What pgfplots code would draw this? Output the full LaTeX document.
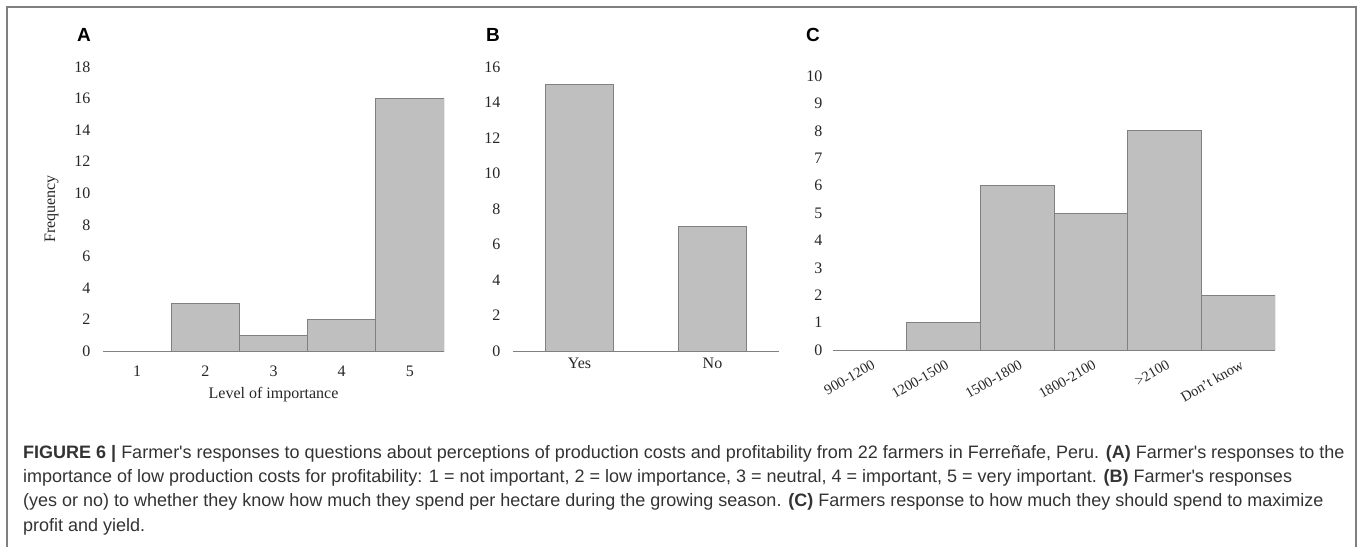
\documentclass[border=0pt]{standalone}
\usepackage{pgfplots}
\pgfplotsset{compat=1.18}
\usepackage{fontspec}
\setmainfont{Liberation Serif}
\newfontfamily\capfont{Liberation Sans}
\definecolor{barfill}{HTML}{BFBFBF}
\definecolor{baredge}{HTML}{808080}
\definecolor{framegray}{HTML}{7F7F7F}
\definecolor{captext}{HTML}{333333}
\pgfplotsset{
  common/.style={
    scale only axis,
    axis x line*=bottom, axis y line*=left,
    y axis line style={draw=none},
    x axis line style={draw=baredge, line width=1pt},
    major tick length=0pt,
    ymin=0,
    enlargelimits=false,
    tick label style={font=\fontsize{16}{16}\selectfont, text=black!85},
    y tick label style={xshift=-9pt},
    label style={font=\fontsize{16}{16}\selectfont, text=black!85},
    /pgf/number format/assume math mode=true,
    ybar, bar width=1,
    anchor=south west,
  },
  mybar/.style={fill=barfill, draw=baredge, line width=1pt},
}
\begin{document}
\begin{tikzpicture}
\useasboundingbox (0,0) rectangle (1360pt,-547pt);
\draw[framegray, line width=1.5pt] (7pt,-547pt) -- (7pt,-7pt) -- (1356pt,-7pt) -- (1356pt,-547pt);
% Panel A
\begin{axis}[common, at={(103pt,-351pt)}, width=341pt, height=284pt,
  xmin=0.5, xmax=5.5, ymax=18, ytick={0,2,...,18}, xtick={1,2,3,4,5},
  x tick label style={yshift=-11pt},
  xlabel={Level of importance}, ylabel={Frequency},
  xlabel style={yshift=-4pt}, ylabel style={yshift=9pt}]
\addplot[mybar] coordinates {(1,0) (2,3) (3,1) (4,2) (5,16)};
\end{axis}
% Panel B
\begin{axis}[common, at={(513pt,-351pt)}, width=266pt, height=284pt,
  xmin=-0.5, xmax=1.5, ymax=16, ytick={0,2,...,16}, bar width=0.51,
  x tick label style={yshift=-3pt},
  xtick={0,1}, xticklabels={Yes,No}]
\addplot[mybar] coordinates {(0,15) (1,7)};
\end{axis}
% Panel C
\begin{axis}[common, at={(833pt,-350pt)}, width=442pt, height=274pt,
  xmin=-0.5, xmax=5.5, ymax=10, ytick={0,1,...,10},
  y tick label style={xshift=2pt},
  xtick={0,...,5}, xticklabels={900-1200,1200-1500,1500-1800,1800-2100,>2100,Don't know},
  x tick label style={rotate=30, anchor=north east, yshift=-5pt, font=\fontsize{14.5}{14.5}\selectfont}]
\addplot[mybar] coordinates {(0,0) (1,1) (2,6) (3,5) (4,8) (5,2)};
\end{axis}
% panel letters
\node[font=\capfont\bfseries\fontsize{19}{19}\selectfont] at (84pt,-35pt) {A};
\node[font=\capfont\bfseries\fontsize{19}{19}\selectfont] at (493pt,-35pt) {B};
\node[font=\capfont\bfseries\fontsize{19}{19}\selectfont] at (813pt,-35pt) {C};
% caption
\node[anchor=north west, inner sep=0pt, text=captext, align=left,
  font=\capfont\fontsize{18}{24.3}\selectfont] at (23pt,-445pt) {%
\textbf{FIGURE 6 |} Farmer's responses to questions about perceptions of production costs and profitability from 22 farmers in Ferreñafe, Peru. \textbf{(A)} Farmer's responses to the\\
importance of low production costs for profitability: 1 = not important, 2 = low importance, 3 = neutral, 4 = important, 5 = very important. \textbf{(B)} Farmer's responses\\
(yes or no) to whether they know how much they spend per hectare during the growing season. \textbf{(C)} Farmers response to how much they should spend to maximize\\
profit and yield.};
\end{tikzpicture}
\end{document}
